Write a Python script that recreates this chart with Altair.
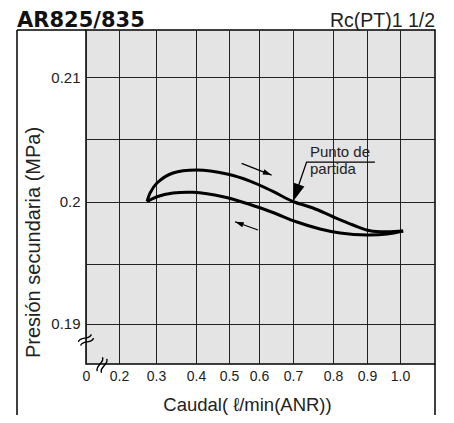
import altair as alt
import pandas as pd

# ---- axes (hand-drawn grid: uneven spacing, mapped piecewise) ----
x_domain = [0.1, 0.2, 0.3, 0.4, 0.5, 0.6, 0.7, 0.8, 0.9, 1.0, 1.1]
x_range = [0, 33, 70, 110, 143, 173, 207, 247, 281, 314, 349]
x_ticks = [0.1, 0.2, 0.3, 0.4, 0.5, 0.6, 0.7, 0.8, 0.9, 1.0]
y_domain = [0.18672, 0.19, 0.195, 0.2, 0.205, 0.21, 0.21381]
y_range = [334, 293.5, 234, 171.5, 108.5, 47, 0]
y_ticks = [0.19, 0.195, 0.2, 0.205, 0.21]

# ---- curves ----
upper_x = [0.276, 0.2838, 0.3025, 0.3425, 0.403, 0.494, 0.57, 0.641, 0.70,
           0.75, 0.80, 0.859, 0.909, 0.961, 1.009]
upper_y = [0.2, 0.20067, 0.20147, 0.20226, 0.2025, 0.20218, 0.20162, 0.20080,
           0.2, 0.19948, 0.19878, 0.19812, 0.19766, 0.19758, 0.19764]
lower_x = [0.276, 0.3025, 0.3425, 0.3925, 0.482, 0.57, 0.641, 0.71, 0.7675,
           0.821, 0.9, 0.961, 1.009]
lower_y = [0.2, 0.20038, 0.20067, 0.20073, 0.20038, 0.19976, 0.19912, 0.19836,
           0.1978, 0.19748, 0.19732, 0.1974, 0.19764]

# ---- annotations ----
ann_id = ["lead", "lead", "lead", "up", "up", "down", "down"]
ann_x = [0.924, 0.734, 0.70, 0.542, 0.637, 0.5967, 0.52]
ann_y = [0.20313, 0.20313, 0.2, 0.20303, 0.2021, 0.19772, 0.19838]
head_x = [0.70, 0.637, 0.52]
head_y = [0.2, 0.2021, 0.19838]
head_angle = [20, 291, 110]
head_size = [500, 120, 120]
label_lines = ["Punto de", "partida"]
label_x = [0.7425, 0.7425]
label_y = [0.20356, 0.20216]

FONT = "Liberation Sans"

curve_df = pd.DataFrame({
    "serie": ["ida"] * len(upper_x) + ["vuelta"] * len(lower_x),
    "x": upper_x + lower_x,
    "y": upper_y + lower_y,
})
ann_df = pd.DataFrame({"id": ann_id, "o": list(range(len(ann_id))), "x": ann_x, "y": ann_y})
head_df = pd.DataFrame({"x": head_x, "y": head_y, "a": head_angle, "s": head_size})
lab_df = pd.DataFrame({"t": label_lines, "x": label_x, "y": label_y})

xs = alt.Scale(domain=x_domain, range=x_range, nice=False, zero=False)
ys = alt.Scale(domain=y_domain, range=y_range, nice=False, zero=False)

x_axis = alt.Axis(
    values=x_ticks, tickCount=30, grid=True, ticks=False, tickSize=0, domain=False,
    labelExpr="datum.value < 0.15 ? '0' : format(datum.value, '.1f')",
    labelFontSize=14, labelPadding=5, labelFlush=False, labelOverlap=False,
    labelColor="#222",
    title="Caudal( ℓ/min(ANR))", titleFontSize=18.5, titleFontWeight="normal",
    titleX=161, titleY=46, titleBaseline="alphabetic", titleAlign="center",
    titleColor="#222", labelFont=FONT, titleFont=FONT,
)
y_axis = alt.Axis(
    values=y_ticks, tickCount=30, grid=True, ticks=False, tickSize=0, domain=False,
    labelExpr="(format(datum.value,'.3~f') == '0.195' || format(datum.value,'.3~f') == '0.205') ? '' : format(datum.value,'.3~f')",
    labelFontSize=15, labelPadding=6, labelColor="#222", labelOverlap=False,
    title="Presión secundaria  (MPa)", titleFontSize=20, titleFontWeight="normal",
    titleX=-47, titleY=212, titleAngle=270, titleBaseline="alphabetic",
    titleAlign="center", titleColor="#222", labelFont=FONT, titleFont=FONT,
)

curves = alt.Chart(curve_df).mark_line(
    interpolate="catmull-rom", strokeWidth=3, color="black"
).encode(
    x=alt.X("x:Q", scale=xs, axis=x_axis),
    y=alt.Y("y:Q", scale=ys, axis=y_axis),
    detail="serie:N",
)

ann = alt.Chart(ann_df).mark_line(strokeWidth=1.3, color="black").encode(
    x=alt.X("x:Q", scale=xs), y=alt.Y("y:Q", scale=ys),
    detail="id:N", order="o:Q",
)

heads = alt.Chart(head_df).mark_point(
    shape="M0,0L-0.5,-1.6L0.5,-1.6Z", filled=True, color="black", opacity=1, strokeWidth=0
).encode(
    x=alt.X("x:Q", scale=xs), y=alt.Y("y:Q", scale=ys),
    angle=alt.Angle("a:Q", scale=None), size=alt.Size("s:Q", scale=None),
)

labels = alt.Chart(lab_df).mark_text(
    align="left", baseline="alphabetic", fontSize=15, font=FONT, color="#222"
).encode(x=alt.X("x:Q", scale=xs), y=alt.Y("y:Q", scale=ys), text="t:N")

one = pd.DataFrame({"t": ["AR825/835"]})
title_left = alt.Chart(one).mark_text(
    align="left", baseline="alphabetic", fontSize=21, font="DejaVu Sans",
    fontWeight="bold", color="#111"
).encode(x=alt.value(-69), y=alt.value(-3.5), text="t:N")

one2 = pd.DataFrame({"t": ["Rc(PT)1 1/2"]})
title_right = alt.Chart(one2).mark_text(
    align="right", baseline="alphabetic", fontSize=19.5, font=FONT, color="#222"
).encode(x=alt.value(349), y=alt.value(-3.5), text="t:N")

dummy = pd.DataFrame({"k": [0]})
frame_left = alt.Chart(dummy).mark_rule(color="black", strokeWidth=1.5).encode(
    x=alt.value(-69), y=alt.value(0), y2=alt.value(400))
frame_top = alt.Chart(dummy).mark_rule(color="black", strokeWidth=1.5).encode(
    x=alt.value(-69), x2=alt.value(0), y=alt.value(0))
frame_right = alt.Chart(dummy).mark_rule(color="black", strokeWidth=1.5).encode(
    x=alt.value(349), y=alt.value(334), y2=alt.value(400))

wave = "M-1,-0.3C-0.5,-0.9,0.5,0.3,1,-0.3M-1,0.3C-0.5,-0.3,0.5,0.9,1,0.3"
break_y = alt.Chart(dummy).mark_point(
    shape=wave, filled=False, stroke="black", strokeWidth=1.4, size=220, angle=330, opacity=1
).encode(x=alt.value(0), y=alt.value(310))
break_x = alt.Chart(dummy).mark_point(
    shape=wave, filled=False, stroke="black", strokeWidth=1.4, size=220, angle=290, opacity=1
).encode(x=alt.value(16), y=alt.value(335))

chart = alt.layer(
    curves, ann, heads, labels, title_left, title_right,
    frame_left, frame_top, frame_right, break_y, break_x,
).properties(
    width=349, height=334,
    autosize=alt.AutoSizeParams(type="none"),
    padding={"left": 78, "top": 22, "right": 8, "bottom": 51},
    background="white",
).configure_view(
    fill="#e4e4e4", stroke="black", strokeWidth=1.5
).configure_axis(
    gridColor="#222", gridWidth=1, gridOpacity=1
)

chart.save("out.html", embed_options={"renderer": "svg", "actions": False})
